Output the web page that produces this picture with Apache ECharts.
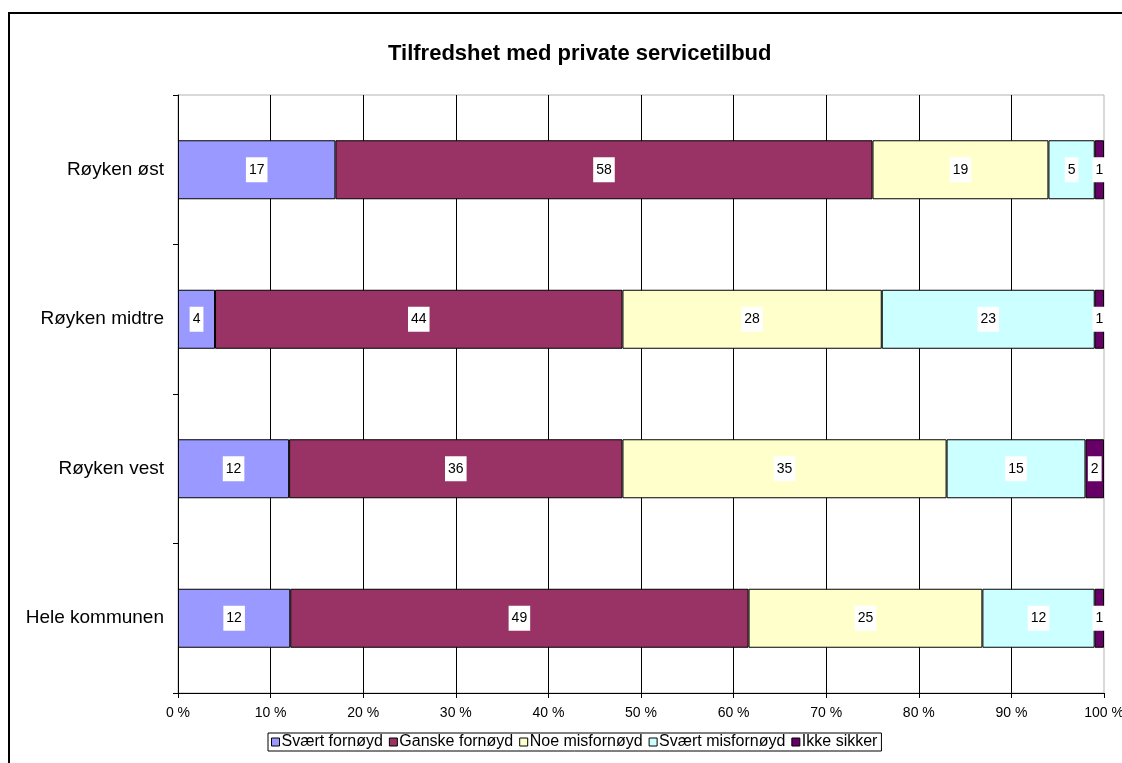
<!DOCTYPE html>
<html>
<head>
<meta charset="utf-8">
<script src="https://cdn.jsdelivr.net/npm/echarts@6/dist/echarts.min.js"></script>
<style>
html,body{margin:0;padding:0;overflow:hidden;background:#fff;}
#chart{position:absolute;left:0;top:0;width:1122px;height:763px;}
#frame{position:absolute;left:8px;top:12px;width:2000px;height:2000px;border:2px solid #000;pointer-events:none;}
</style>
</head>
<body>
<div id="chart"></div>
<div id="frame"></div>
<script>
var categories = ['Hele kommunen', 'Røyken vest', 'Røyken midtre', 'Røyken øst'];
var seriesNames = ['Svært fornøyd', 'Ganske fornøyd', 'Noe misfornøyd', 'Svært misfornøyd', 'Ikke sikker'];
var svaertFornoyd    = [12, 12, 4, 17];
var ganskeFornoyd    = [49, 36, 44, 58];
var noeMisfornoyd    = [25, 35, 28, 19];
var svaertMisfornoyd = [12, 15, 23, 5];
var ikkeSikker       = [1, 2, 1, 1];
var colors = ['#9999FF', '#993366', '#FFFFCC', '#CCFFFF', '#660066'];

var allSeries = [svaertFornoyd, ganskeFornoyd, noeMisfornoyd, svaertMisfornoyd, ikkeSikker];
var totals = categories.map(function (c, i) {
  return allSeries.reduce(function (s, arr) { return s + arr[i]; }, 0);
});

var chart = echarts.init(document.getElementById('chart'), null, {renderer: 'canvas'});
var font = 'Arial, "Liberation Sans", sans-serif';

var series = allSeries.map(function (arr, k) {
  return {
    name: seriesNames[k],
    type: 'bar',
    stack: 'total',
    barWidth: 59,
    itemStyle: {color: colors[k], borderColor: '#000', borderWidth: 1},
    label: {
      show: true,
      position: 'inside',
      color: '#000',
      fontFamily: font,
      fontSize: 14,
      backgroundColor: '#fff',
      padding: [6, 3, 5, 3],
      formatter: function (p) { return p.data.raw; }
    },
    emphasis: {disabled: true},
    data: arr.map(function (v, i) { return {value: v / totals[i] * 100, raw: v}; })
  };
});

chart.setOption({
  animation: false,
  backgroundColor: '#fff',
  title: {
    text: 'Tilfredshet med private servicetilbud',
    left: 383,
    top: 38,
    textStyle: {fontFamily: font, fontSize: 22, fontWeight: 'bold', color: '#000'}
  },
  legend: {
    left: 268,
    top: 733,
    itemWidth: 8,
    itemHeight: 8,
    itemGap: 6,
    icon: 'rect',
    borderColor: '#000',
    borderWidth: 1,
    padding: [1, 4, 1, 3],
    textStyle: {fontFamily: font, fontSize: 16, color: '#000', padding: [0, 0, 0, -3]},
    itemStyle: {borderColor: '#000', borderWidth: 1},
    data: seriesNames
  },
  grid: {
    left: 178, right: 18, top: 95, bottom: 70,
    show: true, borderColor: '#b3b3b3', borderWidth: 1,
    containLabel: false, outerBoundsMode: 'none'
  },
  xAxis: {
    type: 'value',
    min: 0, max: 100, interval: 10,
    axisLine: {show: true, lineStyle: {color: '#000', width: 1}},
    axisTick: {show: true, length: 5, lineStyle: {color: '#000'}},
    axisLabel: {fontFamily: font, fontSize: 14, color: '#000', margin: 13, formatter: '{value} %'},
    splitLine: {show: true, showMaxLine: false, lineStyle: {color: '#000', width: 1}}
  },
  yAxis: {
    type: 'category',
    data: categories,
    axisLine: {show: true, lineStyle: {color: '#000', width: 1}},
    axisTick: {show: true, length: 5, lineStyle: {color: '#000'}},
    axisLabel: {fontFamily: font, fontSize: 19, color: '#000', margin: 14},
    splitLine: {show: false}
  },
  series: series
});
</script>
</body>
</html>
